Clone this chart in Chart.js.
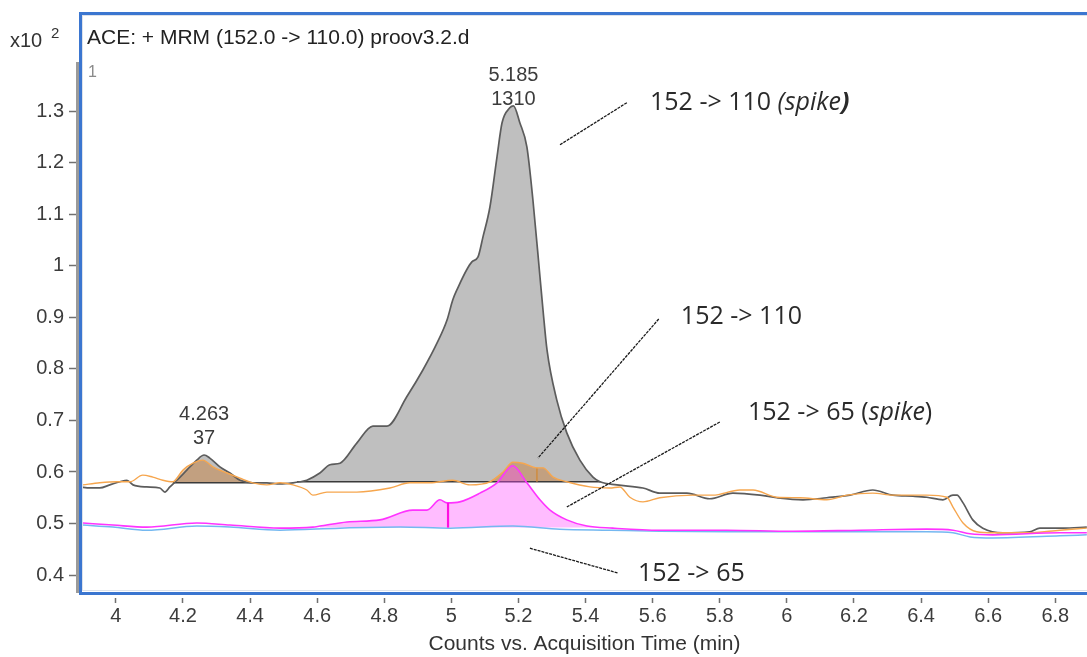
<!DOCTYPE html>
<html><head><meta charset="utf-8">
<script src="https://cdn.jsdelivr.net/npm/chart.js@4.4.0/dist/chart.umd.min.js"></script>
<style>html,body{margin:0;padding:0;background:#fff;}canvas{display:block;}</style>
</head><body>
<canvas id="c" width="1087" height="657"></canvas>
<script>
// ---------- data ----------
// 152 -> 110 (spike)  [gray]
const spike110Time = [3.893,3.923,3.952,3.982,4.012,4.033,4.051,4.092,4.131,4.146,4.161,4.182,4.212,4.241,4.263,4.280,4.310,4.340,4.370,4.408,4.450,4.489,4.528,4.548,4.569,4.608,4.638,4.668,4.718,4.766,4.808,4.867,4.915,4.957,4.987,5.004,5.016,5.061,5.079,5.094,5.115,5.136,5.151,5.174,5.185,5.204,5.225,5.243,5.264,5.273,5.285,5.314,5.344,5.383,5.422,5.443,5.493,5.571,5.621,5.702,5.770,5.839,5.920,5.970,6.048,6.119,6.188,6.256,6.316,6.376,6.417,6.465,6.495,6.507,6.525,6.554,6.584,6.644,6.724,6.754,6.823,6.894];
const spike110 = [0.571,0.569,0.569,0.575,0.581,0.584,0.575,0.571,0.569,0.561,0.571,0.584,0.604,0.623,0.633,0.627,0.610,0.598,0.584,0.579,0.579,0.577,0.579,0.581,0.584,0.598,0.614,0.617,0.656,0.689,0.689,0.746,0.798,0.850,0.895,0.934,0.953,1.008,1.017,1.056,1.115,1.212,1.278,1.307,1.311,1.278,1.231,1.128,0.979,0.915,0.837,0.740,0.676,0.623,0.590,0.581,0.575,0.569,0.559,0.559,0.548,0.559,0.555,0.550,0.546,0.550,0.555,0.565,0.555,0.553,0.551,0.546,0.555,0.555,0.540,0.507,0.491,0.482,0.484,0.491,0.491,0.493];
// 152 -> 110  [orange]
const plain110Time = [3.902,3.952,4.003,4.042,4.080,4.110,4.140,4.170,4.200,4.230,4.259,4.289,4.331,4.370,4.408,4.450,4.489,4.528,4.569,4.587,4.629,4.668,4.718,4.817,4.876,4.936,5.004,5.055,5.115,5.154,5.183,5.213,5.255,5.273,5.303,5.344,5.413,5.472,5.502,5.532,5.571,5.621,5.720,5.779,5.860,5.899,5.970,6.039,6.119,6.179,6.256,6.316,6.417,6.477,6.495,6.525,6.566,6.614,6.715,6.814,6.894];
const plain110 = [0.575,0.579,0.581,0.581,0.594,0.590,0.584,0.581,0.604,0.617,0.623,0.610,0.598,0.588,0.579,0.575,0.579,0.575,0.565,0.555,0.561,0.561,0.561,0.569,0.579,0.579,0.584,0.575,0.581,0.600,0.619,0.617,0.608,0.608,0.590,0.581,0.571,0.569,0.571,0.551,0.542,0.550,0.555,0.555,0.565,0.565,0.551,0.550,0.546,0.555,0.559,0.555,0.555,0.551,0.532,0.501,0.484,0.482,0.482,0.487,0.491];
// 152 -> 65 (spike)  [magenta]
const spike65Time = [3.902,3.991,4.092,4.241,4.340,4.489,4.587,4.608,4.689,4.787,4.885,4.927,4.966,4.987,5.025,5.085,5.136,5.183,5.225,5.264,5.294,5.344,5.404,5.481,5.621,5.821,6.018,6.218,6.417,6.495,6.546,6.614,6.814,6.894];
const spike65 = [0.501,0.497,0.493,0.501,0.497,0.491,0.493,0.495,0.503,0.507,0.526,0.526,0.546,0.540,0.542,0.559,0.579,0.612,0.579,0.546,0.526,0.507,0.495,0.491,0.487,0.487,0.485,0.487,0.489,0.487,0.480,0.478,0.482,0.482];
// 152 -> 65  [light blue]
const plain65Time = [3.902,3.991,4.092,4.241,4.340,4.489,4.668,4.847,4.996,5.183,5.323,5.472,5.621,5.821,6.018,6.218,6.417,6.495,6.546,6.614,6.814,6.894];
const plain65 = [0.497,0.493,0.487,0.495,0.493,0.487,0.491,0.493,0.491,0.495,0.489,0.487,0.485,0.484,0.484,0.484,0.484,0.482,0.474,0.472,0.476,0.478];

// integrated peaks: [start, end, baseline]
const spike110Peaks = [[4.17, 4.41, 0.579], [4.54, 5.445, 0.581]];
const plain110Peaks = [[4.17, 4.41, 0.579], [5.11, 5.35, 0.581]];
const spike65Peaks  = [[4.60, 5.50, 0.492]];
// peak split markers: [time, top, bottom]
const spike65Split = [4.990, 0.540, 0.492];
const plain110Split = [5.255, 0.608, 0.581];

// peak labels: [time, label-value, rt text, height text]
const peakLabels = [[5.185, 1.323, '5.185', '1310'], [4.263, 0.666, '4.263', '37']];

const xTickStep = 0.2, yTickStep = 0.1;
const xMin = 3.899, xMax = 6.8945, yMin = 0.367, yMax = 1.396;

const titleText = 'ACE: + MRM (152.0 -> 110.0) proov3.2.d';
const xAxisTitle = 'Counts vs. Acquisition Time (min)';
const calloutTexts = [
  [['152 -> 110 ', 'normal'], ['(spike', 'italic'], [')', 'italic bold']],
  [['152 -> 110', 'normal']],
  [['152 -> 65 (', 'normal'], ['spike', 'italic'], [')', 'normal']],
  [['152 -> 65', 'normal']]
];

// ---------- helpers ----------
const pts = (t, v) => t.map((x, i) => ({x, y: v[i]}));
const seg = (t, v, a, b) => pts(t, v).filter(p => p.x >= a && p.x <= b);
const fmt = v => String(+v.toFixed(1));
const FONT = '"Liberation Sans", Arial, sans-serif';

const lineDs = (data, color, width, order) => ({
  data, borderColor: color, borderWidth: width, pointRadius: 0, fill: false,
  cubicInterpolationMode: 'monotone', order
});
const fillDs = (data, base, bg, order) => ({
  data, borderWidth: 0, borderColor: 'rgba(0,0,0,0)', backgroundColor: bg, pointRadius: 0,
  fill: {value: base}, cubicInterpolationMode: 'monotone', order
});

const datasets = [];
spike110Peaks.forEach(p => datasets.push(fillDs(seg(spike110Time, spike110, p[0], p[1]), p[2], 'rgba(128,128,128,0.5)', 20)));
plain110Peaks.forEach(p => datasets.push(fillDs(seg(plain110Time, plain110, p[0], p[1]), p[2], 'rgba(200,115,35,0.40)', 19)));
spike65Peaks.forEach(p => datasets.push(fillDs(seg(spike65Time, spike65, p[0], p[1]), p[2], 'rgba(255,70,255,0.36)', 4)));
spike110Peaks.forEach(p => datasets.push(lineDs([{x: p[0], y: p[2]}, {x: p[1], y: p[2]}], '#3a3a3a', 1.4, 9)));
datasets.push(lineDs(pts(spike110Time, spike110), '#5c5c5c', 1.7, 8));
datasets.push(lineDs(pts(plain110Time, plain110), '#f6a64e', 1.4, 7));
datasets.push(lineDs([{x: plain110Split[0], y: plain110Split[1]}, {x: plain110Split[0], y: plain110Split[2]}], '#d08a3a', 1.4, 7));
datasets.push(lineDs(pts(plain65Time, plain65), '#74b8f0', 1.5, 3));
datasets.push(lineDs(pts(spike65Time, spike65), '#ff33ff', 1.6, 2));
datasets.push(lineDs([{x: spike65Split[0], y: spike65Split[1]}, {x: spike65Split[0], y: spike65Split[2]}], '#ff10e0', 2.2, 1));

// ---------- decorations ----------
const decor = {
  id: 'decor',
  beforeDraw(chart) {
    const c = chart.ctx; c.save(); c.fillStyle = '#fff'; c.fillRect(0, 0, chart.width, chart.height); c.restore();
  },
  afterDraw(chart) {
    const c = chart.ctx, ca = chart.chartArea, xs = chart.scales.x, ys = chart.scales.y;
    c.save();
    // axis bar + frame
    c.strokeStyle = '#9a9a9a'; c.lineWidth = 3;
    c.beginPath(); c.moveTo(ca.left - 4.5, ca.top); c.lineTo(ca.left - 4.5, ca.bottom + 1); c.stroke();
    c.strokeStyle = '#dde2ea'; c.lineWidth = 1;
    c.strokeRect(ca.left + 0.5, 15.5, 2000, ca.bottom - 17);
    c.strokeStyle = '#3b76d0'; c.lineWidth = 3;
    c.strokeRect(ca.left - 1.5, 13.5, 2000, ca.bottom - 12);
    // title & multiplier
    c.fillStyle = '#222'; c.textBaseline = 'middle'; c.textAlign = 'left';
    c.font = '21px ' + FONT; c.fillText(titleText, ca.left + 5, 38);
    c.fillStyle = '#333';
    c.font = '20px ' + FONT; c.fillText('x10', 10, 41);
    c.font = '15px ' + FONT; c.fillText('2', 51, 34);
    c.fillStyle = '#8a8a8a'; c.font = '16px ' + FONT; c.fillText('1', ca.left + 6, 73);
    // peak labels
    c.textAlign = 'center'; c.fillStyle = '#3c3c3c'; c.font = '20px ' + FONT;
    peakLabels.forEach(p => {
      const px = xs.getPixelForValue(p[0]), py = ys.getPixelForValue(p[1]);
      c.fillText(p[2], px, py - 24); c.fillText(p[3], px, py);
    });
    // callouts (text anchor + leader line, in data units)
    const callPos = [
      {t: 5.592, v: 1.3165, a: [5.523, 1.317], b: [5.323, 1.235]},
      {t: 5.684, v: 0.901, a: [5.618, 0.897], b: [5.258, 0.627]},
      {t: 5.884, v: 0.715, a: [5.800, 0.697], b: [5.344, 0.532]},
      {t: 5.556, v: 0.402, a: [5.234, 0.452], b: [5.496, 0.404]}
    ];
    c.textAlign = 'left'; c.fillStyle = '#2a2a2a';
    callPos.forEach((cp, i) => {
      c.strokeStyle = '#1a1a1a'; c.lineWidth = 1.3; c.setLineDash([3, 1]);
      c.beginPath();
      c.moveTo(xs.getPixelForValue(cp.a[0]), ys.getPixelForValue(cp.a[1]));
      c.lineTo(xs.getPixelForValue(cp.b[0]), ys.getPixelForValue(cp.b[1]));
      c.stroke(); c.setLineDash([]);
      let x = xs.getPixelForValue(cp.t); const y = ys.getPixelForValue(cp.v);
      calloutTexts[i].forEach(([txt, st]) => {
        c.font = (st === 'normal' ? '' : st + ' ') + '25px "Open Sans", sans-serif';
        c.fillText(txt, x, y); x += c.measureText(txt).width;
      });
    });
    c.restore();
  }
};

new Chart(document.getElementById('c'), {
  type: 'line',
  data: {datasets},
  options: {
    responsive: false, animation: false, parsing: true,
    layout: {padding: {top: 62, left: 0, right: 0, bottom: 0}},
    plugins: {legend: {display: false}, tooltip: {enabled: false}},
    scales: {
      x: {
        type: 'linear', min: xMin, max: xMax,
        afterFit: s => { s.height = 65; },
        border: {display: false},
        grid: {drawOnChartArea: false, drawTicks: true, tickLength: 11, tickColor: '#707070', tickWidth: 1.5, tickBorderDash: [0, 6, 5, 50]},
        ticks: {stepSize: xTickStep, includeBounds: false, autoSkip: false, maxRotation: 0, padding: 1,
          color: '#3c3c3c', font: {family: FONT, size: 20}, callback: v => fmt(v)},
        title: {display: true, text: xAxisTitle, color: '#333', font: {family: FONT, size: 21}, padding: {top: 0, bottom: 0}}
      },
      y: {
        type: 'linear', min: yMin, max: yMax,
        afterFit: s => { s.width = 82; },
        border: {display: false},
        grid: {drawOnChartArea: false, drawTicks: true, tickLength: 13, tickColor: '#707070', tickWidth: 1.5},
        ticks: {stepSize: yTickStep, includeBounds: false, padding: 5,
          color: '#3c3c3c', font: {family: FONT, size: 20}, callback: v => fmt(v)}
      }
    }
  },
  plugins: [decor]
});
</script>
</body></html>
